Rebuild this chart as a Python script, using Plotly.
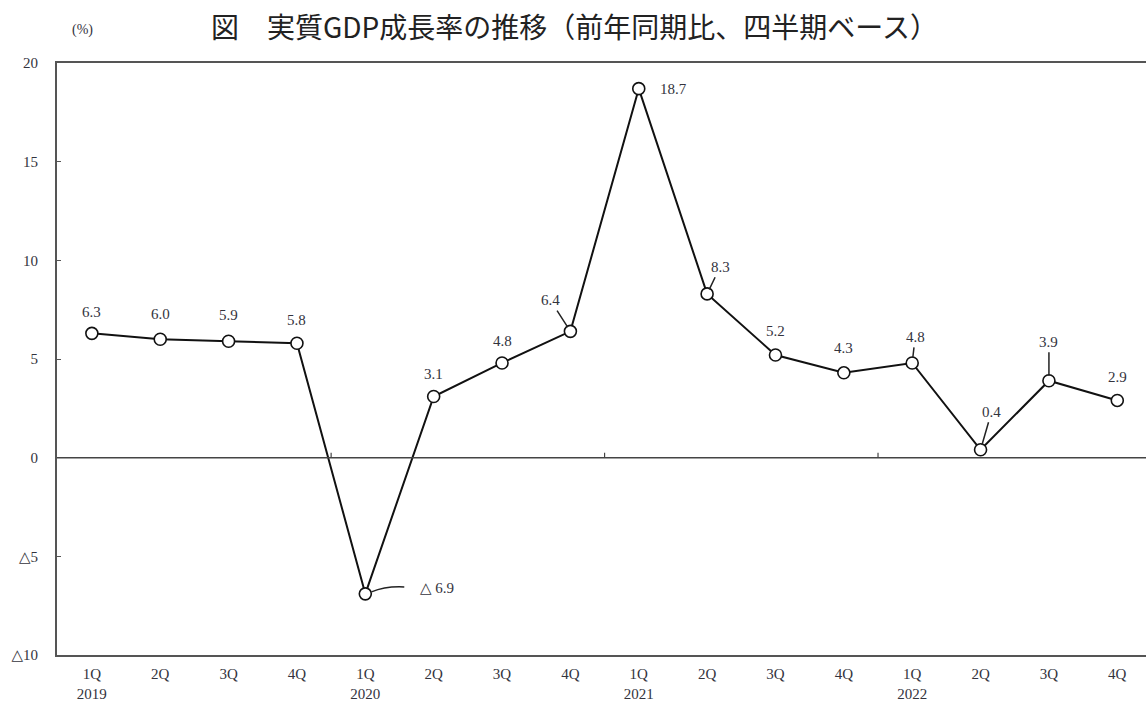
import plotly.graph_objects as go

# 実質GDP成長率（前年同期比、%）
quarters = ["1Q", "2Q", "3Q", "4Q"] * 4
years = ["2019", "", "", "", "2020", "", "", "", "2021", "", "", "", "2022", "", "", ""]
growth = [6.3, 6.0, 5.9, 5.8, -6.9, 3.1, 4.8, 6.4, 18.7, 8.3, 5.2, 4.3, 4.8, 0.4, 3.9, 2.9]
y_ticks = [-10, -5, 0, 5, 10, 15, 20]

SERIF = "Liberation Serif, DejaVu Serif, serif"
LABEL_COLOR = "#33333d"
FS = 15

def fmt(v):
    return f"△ {abs(v):.1f}" if v < 0 else f"{v:.1f}"

def tick_fmt(v):
    return f"△{abs(v)}" if v < 0 else str(v)

x = list(range(len(growth)))

fig = go.Figure()
fig.add_trace(go.Scatter(
    x=x, y=growth, mode="lines+markers",
    line=dict(color="#111111", width=2),
    marker=dict(size=12, color="white", line=dict(color="#111111", width=1.6)),
    hoverinfo="skip", showlegend=False,
))

# label placement: (dx, dy) pixel offsets, leader line or not
placement = {
    0: (0, -21, False), 1: (0, -25, False), 2: (0, -26, False), 3: (0, -23, False),
    5: (0, -22, False), 6: (0, -22, False), 7: (-20, -31, True), 8: (35, 0, False),
    9: (13, -27, True), 10: (0, -24, False), 11: (0, -25, False), 12: (3, -26, True),
    13: (11, -38, True), 14: (0, -39, True), 15: (0, -23, False),
}

annotations = []
for i, v in enumerate(growth):
    if i == 4:
        annotations.append(dict(x=i, y=v, text=fmt(v), showarrow=False,
                                xshift=72, yshift=6,
                                font=dict(family=SERIF, size=FS, color=LABEL_COLOR)))
        continue
    dx, dy, leader = placement[i]
    if leader:
        annotations.append(dict(x=i, y=v, text=fmt(v), showarrow=True, arrowhead=0,
                                arrowwidth=1.5, arrowcolor="#222222", ax=dx, ay=dy,
                                standoff=5, startstandoff=1,
                                font=dict(family=SERIF, size=FS, color=LABEL_COLOR)))
    else:
        annotations.append(dict(x=i, y=v, text=fmt(v), showarrow=False,
                                xshift=dx, yshift=-dy,
                                font=dict(family=SERIF, size=FS, color=LABEL_COLOR)))

# unit label and title
annotations.append(dict(x=0.012, y=1.056, xref="paper", yref="paper", text="(%)",
                        showarrow=False, yanchor="middle",
                        font=dict(family=SERIF, size=14, color=LABEL_COLOR)))
annotations.append(dict(xref="paper", yref="paper", x=0.475, y=1.0625, xanchor="center",
                        yanchor="middle",
                        text="図　実質GDP成長率の推移（前年同期比、四半期ベース）",
                        showarrow=False,
                        font=dict(family="Noto Sans CJK JP", size=28, color="#222222")))

shapes = [
    # zero line
    dict(type="line", xref="paper", yref="y", x0=0, x1=1, y0=0, y1=0,
         line=dict(color="#444444", width=1.5)),
    # curved leader for the negative value
    dict(type="path", xref="x", yref="y",
         path="M 4.09,-6.8 Q 4.3,-6.5 4.57,-6.55",
         line=dict(color="#222222", width=1.5)),
]
# year boundary ticks on the zero line
for b in (3.5, 7.5, 11.5):
    shapes.append(dict(type="line", xref="x", yref="y", x0=b, x1=b, y0=0, y1=0.25,
                       line=dict(color="#444444", width=1.2)))

ticktext = [f"{q}<br>{y}" if y else q for q, y in zip(quarters, years)]

fig.update_layout(
    width=1146, height=704,
    margin=dict(l=57, r=0, t=63, b=49),
    paper_bgcolor="white", plot_bgcolor="white",
    annotations=annotations, shapes=shapes,
    xaxis=dict(range=[-0.51, 15.42], tickvals=x, ticktext=ticktext,
               showgrid=False, zeroline=False, showline=True, mirror=True,
               linecolor="#555555", linewidth=2, ticks="", ticklabelstandoff=4,
               tickfont=dict(family=SERIF, size=FS, color=LABEL_COLOR)),
    yaxis=dict(range=[-10, 20], tickvals=y_ticks, ticktext=[tick_fmt(v) for v in y_ticks],
               showgrid=False, zeroline=False, showline=True, linecolor="#555555",
               linewidth=2, ticks="inside", ticklen=4, tickcolor="#555555",
               ticklabelstandoff=14,
               tickfont=dict(family=SERIF, size=FS, color=LABEL_COLOR)),
)

fig.write_html("out.html")
